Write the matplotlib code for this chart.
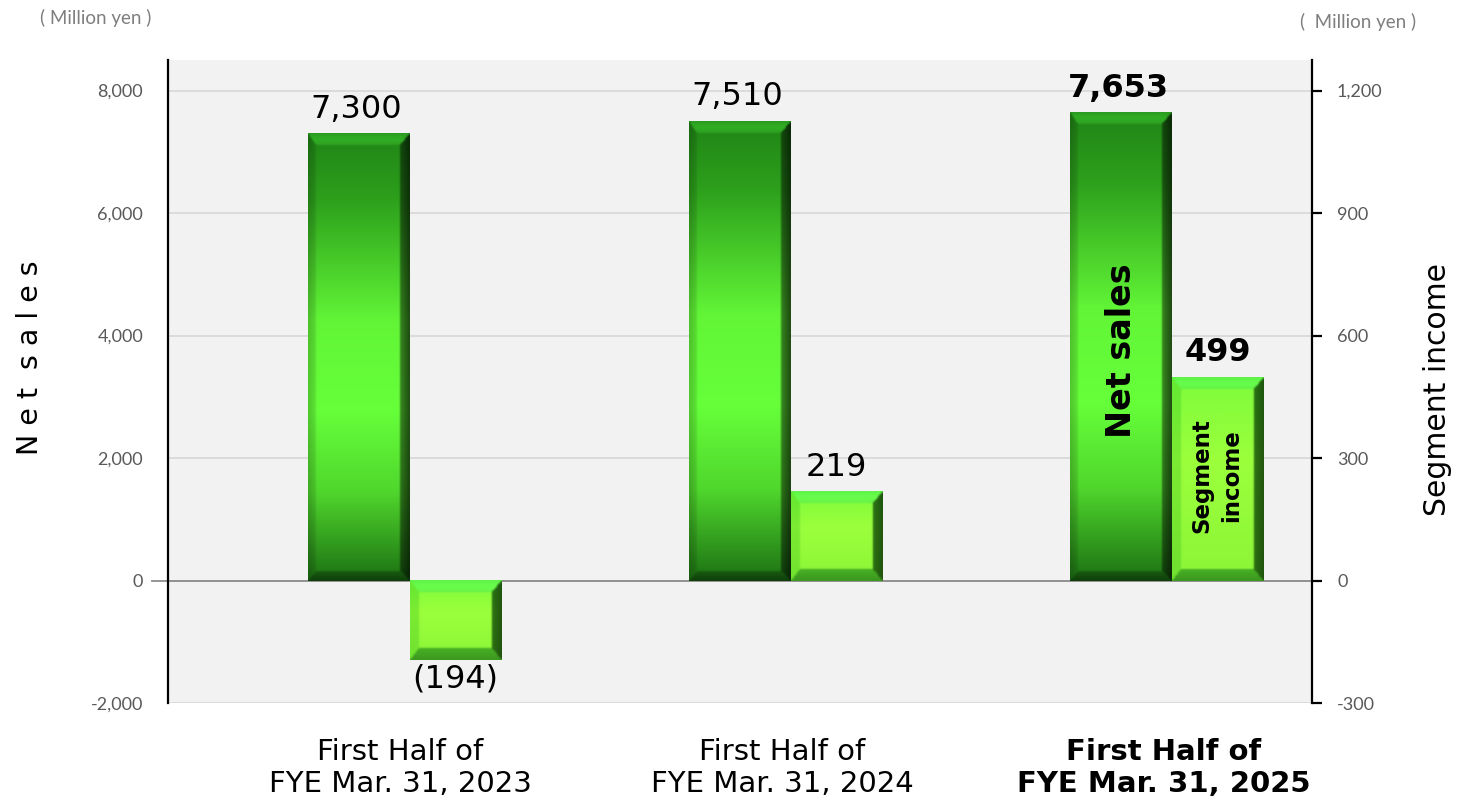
import numpy as np
import matplotlib
matplotlib.use("Agg")
import matplotlib.pyplot as plt
from matplotlib.transforms import blended_transform_factory
from matplotlib.lines import Line2D

# ---------------- data ----------------
categories = ["First Half of\nFYE Mar. 31, 2023",
              "First Half of\nFYE Mar. 31, 2024",
              "First Half of\nFYE Mar. 31, 2025"]
net_sales = [7300, 7510, 7653]
segment_income = [-194, 219, 499]
net_labels = ["7,300", "7,510", "7,653"]
income_labels = ["(194)", "219", "499"]
left_ticks = [-2000, 0, 2000, 4000, 6000, 8000]
right_ticks = [-300, 0, 300, 600, 900, 1200]

W_FIG, H_FIG = 1465, 801
fig = plt.figure(figsize=(W_FIG / 100, H_FIG / 100), dpi=100)
L, R, T, B = 168, 1312, 60, 703
ax = fig.add_axes([L / W_FIG, 1 - B / H_FIG, (R - L) / W_FIG, (B - T) / H_FIG])
ax.set_facecolor("#f2f2f2")
ax2 = ax.twinx()

XLIM = (-0.5, 2.5)
YL = (-2000, 8500)
YR = (-300, 1275)
ax.set_xlim(*XLIM); ax.set_ylim(*YL)
ax2.set_xlim(*XLIM); ax2.set_ylim(*YR)

x = np.arange(len(categories))
w_net, w_inc = 0.267, 0.239
bars1 = ax.bar(x, net_sales, width=w_net, color="none", zorder=2)
bars2 = ax2.bar(x + (w_net + w_inc) / 2, segment_income, width=w_inc, color="none", zorder=2)


def blur(img, n=2):
    for _ in range(n):
        p = np.pad(img, ((1, 1), (1, 1), (0, 0)), mode="edge")
        img = (p[:-2, 1:-1] + p[2:, 1:-1] + p[1:-1, :-2] + p[1:-1, 2:] + 2 * p[1:-1, 1:-1]) / 6.0
    return img


def make_img(Wp, Hp, stops, cols, bev, fx):
    H = max(int(round(Hp)), 2); W = max(int(round(Wp)), 2)
    yy, xx = np.mgrid[0:H, 0:W] + 0.5
    t = yy / H
    cols = np.array(cols) / 255.0
    base = np.stack([np.interp(t, stops, cols[:, k]) for k in range(3)], -1)
    bt, bb, bl, br = bev
    D = np.stack([yy / bt, (H - yy) / bb, xx / bl, (W - xx) / br])
    idx = np.argmin(D, 0)
    dmin = np.min(D, 0)
    m = dmin < 1
    img = base.copy()
    for k in range(4):
        sel = m & (idx == k)
        img[sel] = fx[k](base[sel], dmin[sel][:, None])
    return np.clip(blur(np.clip(img, 0, 1)), 0, 1)


def mul(c, f):
    return c * np.array(f)


net_stops = [0, 0.15, 0.42, 0.62, 0.8, 1]
net_cols = [(32, 132, 22), (45, 160, 28), (98, 245, 55), (102, 255, 58), (80, 215, 45), (28, 112, 19)]
net_fx = [lambda c, d: mul(c, (1.45, 1.28, 1.6)) * (0.9 + 0.1 * np.sin(np.pi * d)),
          lambda c, d: c * (0.55 + 0.2 * d),
          lambda c, d: c * (0.78 + 0.12 * d),
          lambda c, d: c * (0.3 + 0.25 * d)]
inc_stops = [0, 0.4, 1]
inc_cols = [(125, 252, 60), (155, 255, 60), (140, 245, 55)]
inc_fx = [lambda c, d: mul(c, (0.8, 1.0, 1.25)) * (0.95 + 0.05 * np.sin(np.pi * d)),
          lambda c, d: mul(c, (0.5, 0.72, 0.65)) * (0.85 + 0.15 * d),
          lambda c, d: mul(c, (0.8, 0.92, 0.85)),
          lambda c, d: mul(c, (0.28, 0.42, 0.3)) * (0.8 + 0.3 * d)]


def draw_bevel(axis, patches, stops, cols, bev, fx):
    for p in patches:
        x0 = p.get_x(); x1 = x0 + p.get_width()
        y0 = p.get_y(); y1 = y0 + p.get_height()
        ylo, yhi = min(y0, y1), max(y0, y1)
        (px0, py0), (px1, py1) = axis.transData.transform([(x0, ylo), (x1, yhi)])
        img = make_img(abs(px1 - px0), abs(py1 - py0), stops, cols, bev, fx)
        axis.imshow(img, extent=(x0, x1, ylo, yhi), origin="upper", aspect="auto",
                    interpolation="bilinear", zorder=2)


draw_bevel(ax, bars1, net_stops, net_cols, (12, 10, 8, 10), net_fx)
draw_bevel(ax2, bars2, inc_stops, inc_cols, (12, 12, 9, 10), inc_fx)

ax.set_xlim(*XLIM); ax.set_ylim(*YL)
ax2.set_xlim(*XLIM); ax2.set_ylim(*YR)

# grid / zero line
ax.set_yticks(left_ticks)
ax.yaxis.grid(True, color="#d9d9d9", lw=1.3)
ax.set_axisbelow(True)
ax.axhline(0, color="#8c8c8c", lw=1.3, zorder=1.5)
ax.add_line(Line2D([-0.014, 0], [0, 0], transform=blended_transform_factory(ax.transAxes, ax.transData),
                   color="#8c8c8c", lw=1.3, clip_on=False))

for s in ["top", "bottom", "right"]:
    ax.spines[s].set_visible(False)
ax.spines["left"].set_linewidth(1.6)
for s in ["top", "bottom", "left"]:
    ax2.spines[s].set_visible(False)
ax2.spines["right"].set_linewidth(1.6)

fmt = matplotlib.ticker.FuncFormatter(lambda v, p: f"{int(v):,}")
ax.yaxis.set_major_formatter(fmt)
ax2.set_yticks(right_ticks)
ax2.yaxis.set_major_formatter(fmt)
ax.tick_params(axis="y", length=0, pad=18, labelsize=13, labelcolor="#595959")
ax.tick_params(axis="x", length=0, labelbottom=False)
ax2.tick_params(axis="y", length=7, width=1.6, color="black", pad=11, labelsize=13, labelcolor="#595959")
for lab in ax.get_yticklabels() + ax2.get_yticklabels():
    lab.set_family("Lato")

# value labels
for i, (b, lab) in enumerate(zip(bars1, net_labels)):
    ax.annotate(lab, (b.get_x() + b.get_width() / 2, b.get_height()), xytext=(-2, 6),
                textcoords="offset points", ha="center", va="bottom", fontsize=23,
                fontweight="bold" if i == 2 else "normal", color="black", zorder=5)
for i, (b, v, lab) in enumerate(zip(bars2, segment_income, income_labels)):
    if v >= 0:
        ax2.annotate(lab, (b.get_x() + b.get_width() / 2, v), xytext=(0, 6),
                     textcoords="offset points", ha="center", va="bottom", fontsize=23,
                     fontweight="bold" if i == 2 else "normal", color="black", zorder=5)
    else:
        ax2.annotate(lab, (b.get_x() + b.get_width() / 2, v), xytext=(0, -3),
                     textcoords="offset points", ha="center", va="top", fontsize=23,
                     color="black", zorder=5)

# in-bar labels
ax.text(x[2], 3760, "Net sales", rotation=90, ha="center", va="center",
        fontsize=24, fontweight="bold", zorder=5)
ax2.text(x[2] + (w_net + w_inc) / 2 - 0.003, 258, "Segment\nincome", rotation=90, ha="center", va="center",
         fontsize=16.5, fontweight="bold", linespacing=1.35, multialignment="center", zorder=5)

# category labels
tr = blended_transform_factory(ax.transData, ax.transAxes)
for i, c in enumerate(categories):
    ax.text(x[i] + 0.11, -0.101, c, transform=tr, ha="center", va="center", fontsize=21,
            fontweight="bold" if i == 2 else "normal", linespacing=1.2)

# axis titles / units
fig.text(30 / W_FIG, 1 - 358 / H_FIG, "N e t  s a l e s", rotation=90, ha="center", va="center",
         fontsize=20.5, color="black")
fig.text(1438 / W_FIG, 1 - 390 / H_FIG, "Segment income", rotation=90, ha="center", va="center",
         fontsize=21.5, color="black")
fig.text(40 / W_FIG, 1 - 18 / H_FIG, "( Million yen )", ha="left", va="center", fontsize=13.5,
         color="#7f7f7f", family="Lato")
fig.text(1300 / W_FIG, 1 - 22 / H_FIG, "(  Million yen )", ha="left", va="center", fontsize=13.5,
         color="#7f7f7f", family="Lato")

fig.savefig("out.png", dpi=100)
